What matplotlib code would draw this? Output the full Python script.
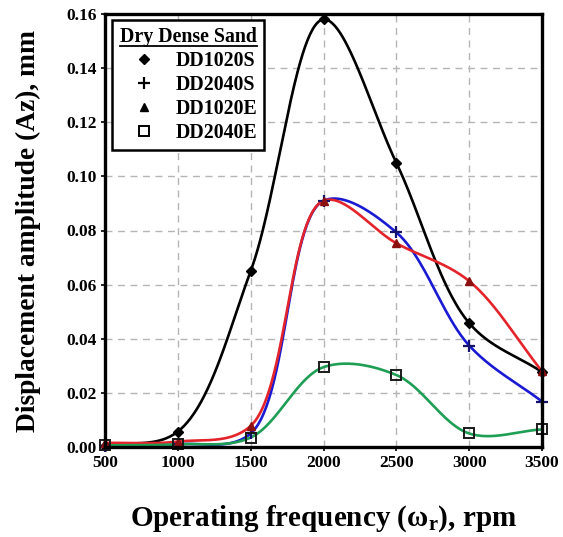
import numpy as np
import matplotlib
matplotlib.use("Agg")
import matplotlib.pyplot as plt
from matplotlib.lines import Line2D

plt.rcParams['font.family'] = ['Liberation Serif', 'DejaVu Serif']
plt.rcParams['font.weight'] = 'bold'
plt.rcParams['mathtext.fontset'] = 'custom'
plt.rcParams['mathtext.rm'] = 'Liberation Serif'
plt.rcParams['mathtext.bf'] = 'Liberation Serif:bold'
plt.rcParams['mathtext.it'] = 'Liberation Serif:italic'

# ---- data ----
freq = [500, 1000, 1500, 2000, 2500, 3000, 3500]
dd1020s = [0.0005, 0.0057, 0.065, 0.158, 0.105, 0.0458, 0.0277]
dd2040s = [0.0003, 0.0010, 0.0050, 0.091, 0.0793, 0.0375, 0.0168]
dd1020e = [0.0015, 0.0020, 0.0078, 0.091, 0.0753, 0.0613, 0.0280]
dd2040e = [0.0006, 0.0010, 0.0035, 0.0295, 0.0266, 0.0050, 0.0065]
labels = ['DD1020S', 'DD2040S', 'DD1020E', 'DD2040E']
legend_title = 'Dry Dense Sand'
xticks = [500, 1000, 1500, 2000, 2500, 3000, 3500]
yticks = [0.00, 0.02, 0.04, 0.06, 0.08, 0.10, 0.12, 0.14, 0.16]

series = [dd1020s, dd2040s, dd1020e, dd2040e]
line_colors = ['#000000', '#1a1ad2', '#e3242b', '#1f9e55']
marker_styles = ['D', '+', '^', 's']
marker_colors = ['#000000', '#14146e', '#8c1010', '#1a1a1a']

fig = plt.figure(figsize=(5.63, 5.37), dpi=100)
ax = fig.add_axes([105/563, 1-447/537, 437/563, 433/537])
ax.set_xlim(500, 3500)
ax.set_ylim(0, 0.16)

ALPHA = 0.5


def smooth_display(xs, ys, n=60):
    """Centripetal Catmull-Rom smoothing computed in display space."""
    pts = ax.transData.transform(np.column_stack([xs, ys]))
    P = np.vstack([2*pts[0]-pts[1], pts, 2*pts[-1]-pts[-2]])
    out = []
    for i in range(1, len(P)-2):
        p0, p1, p2, p3 = P[i-1], P[i], P[i+1], P[i+2]
        d01 = max(np.linalg.norm(p1-p0), 1e-6) ** ALPHA
        d12 = max(np.linalg.norm(p2-p1), 1e-6) ** ALPHA
        d23 = max(np.linalg.norm(p3-p2), 1e-6) ** ALPHA
        m1 = (p1-p0)/d01 - (p2-p0)/(d01+d12) + (p2-p1)/d12
        m2 = (p2-p1)/d12 - (p3-p1)/(d12+d23) + (p3-p2)/d23
        m1 *= d12
        m2 *= d12
        c1 = p1 + m1/3
        c2 = p2 - m2/3
        t = np.linspace(0, 1, n)[:, None]
        seg = ((1-t)**3)*p1 + 3*((1-t)**2)*t*c1 + 3*(1-t)*t**2*c2 + t**3*p2
        out.append(seg if i == 1 else seg[1:])
    disp = np.vstack(out)
    data = ax.transData.inverted().transform(disp)
    return data[:, 0], data[:, 1]


ax.grid(True, color='#b5b5b5', linestyle=(0, (5, 4)), linewidth=1.0)
ax.set_axisbelow(True)

for ys, lc, mk, mc, lab in zip(series, line_colors, marker_styles, marker_colors, labels):
    sx, sy = smooth_display(freq, ys)
    ax.plot(sx, sy, color=lc, linewidth=1.9, zorder=3, clip_on=False)
    if mk == 's':
        ax.plot(freq, ys, linestyle='none', marker='s', markersize=6.5,
                markerfacecolor='none', markeredgecolor=mc, markeredgewidth=1.4,
                zorder=4, clip_on=False)
    elif mk == '+':
        ax.plot(freq, ys, linestyle='none', marker='+', markersize=8,
                markeredgecolor=mc, markeredgewidth=1.6, zorder=4, clip_on=False)
    else:
        ax.plot(freq, ys, linestyle='none', marker=mk, markersize=5.5,
                markerfacecolor=mc, markeredgecolor=mc, zorder=4, clip_on=False)

ax.set_xticks(xticks)
ax.set_xticklabels([str(v) for v in xticks])
ax.set_yticks(yticks)
ax.set_yticklabels([f'{v:.2f}' for v in yticks])
ax.tick_params(axis='both', labelsize=12.5, direction='out', length=3, width=1.2, pad=3)
for lab in ax.get_xticklabels() + ax.get_yticklabels():
    lab.set_fontweight('bold')
for sp in ax.spines.values():
    sp.set_linewidth(2.4)
    sp.set_zorder(5)

ax.set_xlabel(r'Operating frequency ($\mathrm{\omega}_{\mathbf{r}}$), rpm',
              fontsize=21, fontweight='bold', labelpad=23)
ax.set_ylabel('Displacement amplitude (Az), mm', fontsize=19.8, fontweight='bold', labelpad=18)

handles = []
for mk, lab in zip(marker_styles, labels):
    if mk == 's':
        h = Line2D([], [], linestyle='none', marker='s', markersize=6.5,
                   markerfacecolor='none', markeredgecolor='black', markeredgewidth=1.4)
    elif mk == '+':
        h = Line2D([], [], linestyle='none', marker='+', markersize=8,
                   markeredgecolor='black', markeredgewidth=1.6)
    else:
        h = Line2D([], [], linestyle='none', marker=mk, markersize=5.5,
                   markerfacecolor='black', markeredgecolor='black')
    handles.append(h)

leg = ax.legend(handles, labels, title=legend_title, loc='upper left',
                bbox_to_anchor=(0.016, 0.986), fontsize=14.3,
                title_fontproperties={'weight': 'bold', 'size': 14.3},
                frameon=True, fancybox=False, framealpha=1, edgecolor='black',
                borderpad=0.35, labelspacing=0.2, handlelength=2.5,
                handletextpad=0.35, borderaxespad=0)
leg.get_frame().set_linewidth(1.8)
leg.set_zorder(6)
for t in leg.get_texts():
    t.set_fontweight('bold')

fig.canvas.draw()
tt = leg.get_title()
bb = tt.get_window_extent(fig.canvas.get_renderer())
inv = fig.transFigure.inverted()
(x0, y0), (x1, y1) = inv.transform([[bb.x0, bb.y0], [bb.x1, bb.y1]])
fig.add_artist(Line2D([x0, x1], [y0 + 0.002, y0 + 0.002], color='black',
                      linewidth=1.3, transform=fig.transFigure, zorder=10))

fig.savefig('out.png', dpi=100)
